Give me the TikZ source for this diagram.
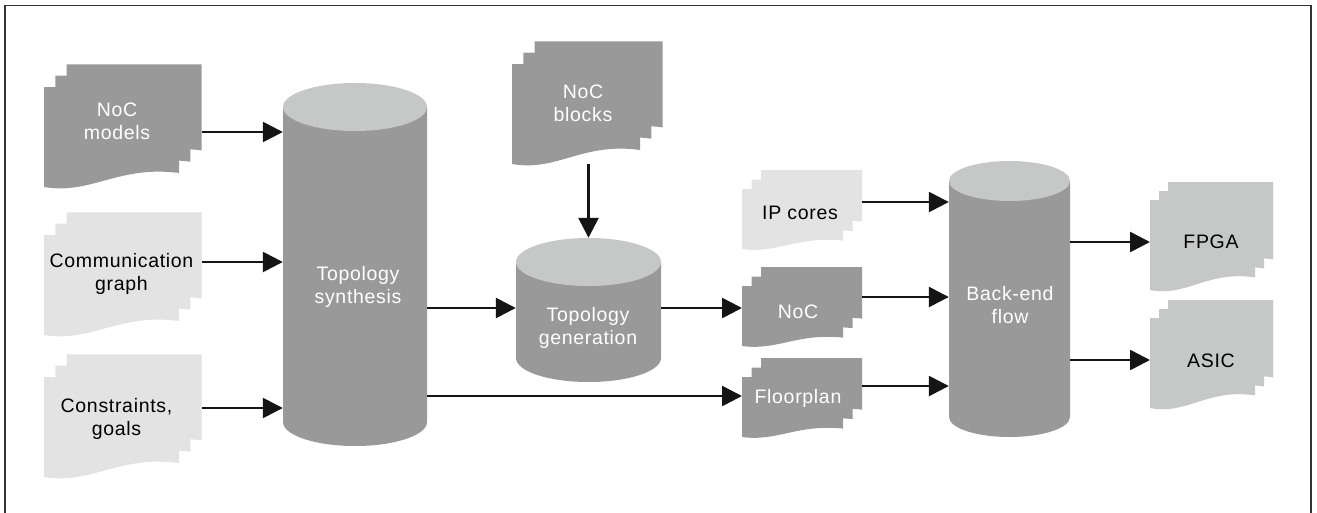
\documentclass[tikz,border=0pt]{standalone}
\usepackage{fontspec}
\setmainfont{Liberation Sans}[LetterSpace=3.5]
\usetikzlibrary{arrows.meta}
\definecolor{dkgray}{HTML}{999999}
\definecolor{topgray}{HTML}{C6C7C7}
\definecolor{ltgray}{HTML}{E3E3E3}
\definecolor{arrowblack}{HTML}{151515}
\tikzset{
  arr/.style={draw=arrowblack, line width=2.6pt, -{Triangle[length=20pt,width=20pt]}},
  doctext/.style={font=\fontsize{19.5}{23}\selectfont, align=center, inner sep=0pt},
  darkdoc/.style={fill=dkgray},
  lightdoc/.style={fill=ltgray},
  middoc/.style={fill=topgray},
  cylbody/.style={fill=dkgray},
  cyltop/.style={fill=topgray}
}
% #1 name, #2 x, #3 y (front page top-left), #4 w, #5 h, #6 offset, #7 fill style
\newcommand\docstack[7]{%
  \foreach \k in {2,1,0}{%
    \fill[#7] ({#2+\k*#6},{#3-\k*#6}) -- ({#2+\k*#6+#4},{#3-\k*#6})
      -- ({#2+\k*#6+#4},{#3-\k*#6+0.86*#5})
      .. controls ({#2+\k*#6+0.55*#4},{#3-\k*#6+0.78*#5}) and ({#2+\k*#6+0.35*#4},{#3-\k*#6+1.08*#5})
      .. ({#2+\k*#6},{#3-\k*#6+#5}) -- cycle;}%
  \node[inner sep=0pt, minimum width={(#4+2*#6)*1pt}, minimum height={(#5+2*#6)*1pt}, anchor=north west] (#1) at (#2,{#3-2*#6}) {};%
}
% #1 name, #2 cx, #3 top centre y, #4 bottom centre y, #5 rx, #6 ry
\newcommand\cylstack[6]{%
  \fill[cylbody] ({#2-#5},#3) -- ({#2-#5},#4) arc[start angle=180,end angle=360,x radius=#5pt,y radius=#6pt] -- ({#2+#5},#3) -- cycle;
  \fill[cyltop] (#2,#3) ellipse[x radius=#5pt, y radius=#6pt];
  \node[inner sep=0pt, minimum width={2*#5*1pt}, minimum height={(#4-#3+2*#6)*1pt}] (#1) at (#2,{(#3+#4)/2}) {};%
}
\begin{document}
\begin{tikzpicture}[x=1pt,y=-1pt]
\useasboundingbox (0,0) rectangle (1317,512);
\fill[white] (0,0) rectangle (1317,512);
\draw[line width=1.4pt, black!80] (5,513) -- (5,5.5) -- (1311,5.5) -- (1311,513);

% documents
\docstack{models}{44}{87}{135}{100}{11.3}{darkdoc}
\docstack{comm}{44}{235}{135}{100}{11.3}{lightdoc}
\docstack{cons}{44}{377}{135}{100}{11.3}{lightdoc}
\docstack{blocks}{512}{64}{128}{100}{11.3}{darkdoc}
\docstack{ipc}{742}{189}{101}{60}{9.5}{lightdoc}
\docstack{noc}{742}{286}{101}{60}{9.5}{darkdoc}
\docstack{floor}{742}{377}{101}{60}{9.5}{darkdoc}
\docstack{fpga}{1150}{200}{105}{90}{9}{middoc}
\docstack{asic}{1150}{318}{105}{90}{9}{middoc}

\node[doctext, text=white] (models-t) at (117,121.5) {NoC\\models};
\node[doctext, text=black] (comm-t) at (121.5,273.5) {Communication\\graph};
\node[doctext, text=black] (cons-t) at (116.5,418.5) {Constraints,\\goals};
\node[doctext, text=white] (blocks-t) at (583,103.5) {NoC\\blocks};
\node[doctext, text=black] (ipc-t) at (800,213) {IP cores};
\node[doctext, text=white] (noc-t) at (798,312) {NoC};
\node[doctext, text=white] (floor-t) at (798,398) {Floorplan};
\node[doctext, text=black] (fpga-t) at (1211,242) {FPGA};
\node[doctext, text=black] (asic-t) at (1211,361) {ASIC};

% cylinders
\cylstack{ts}{355}{107}{422}{72}{24}
\cylstack{tg}{588.5}{262}{358}{72.5}{24}
\cylstack{be}{1009.5}{181}{417}{60.5}{20}
\node[doctext, text=white] (ts-t) at (358,286.5) {Topology\\synthesis};
\node[doctext, text=white] (tg-t) at (588,328) {Topology\\generation};
\node[doctext, text=white] (be-t) at (1010,305) {Back-end\\flow};

% connectors
\draw[arr] (models.east |- 0,132) -- (ts.west |- 0,132);
\draw[arr] (comm.east |- 0,262) -- (ts.west |- 0,262);
\draw[arr] (cons.east |- 0,408) -- (ts.west |- 0,408);
\draw[arr] (ts.east |- 0,308) -- (tg.west |- 0,308);
\draw[arr] (tg.north |- blocks.south) -- (tg.north);
\draw[arr] (tg.east |- 0,308) -- (noc.west |- 0,308);
\draw[arr] (ts.east |- 0,396) -- (floor.west |- 0,396);
\draw[arr] (ipc.east |- 0,202) -- (be.west |- 0,202);
\draw[arr] (noc.east |- 0,297) -- (be.west |- 0,297);
\draw[arr] (floor.east |- 0,386) -- (be.west |- 0,386);
\draw[arr] (be.east |- 0,242) -- (fpga.west |- 0,242);
\draw[arr] (be.east |- 0,360) -- (asic.west |- 0,360);
\end{tikzpicture}
\end{document}
